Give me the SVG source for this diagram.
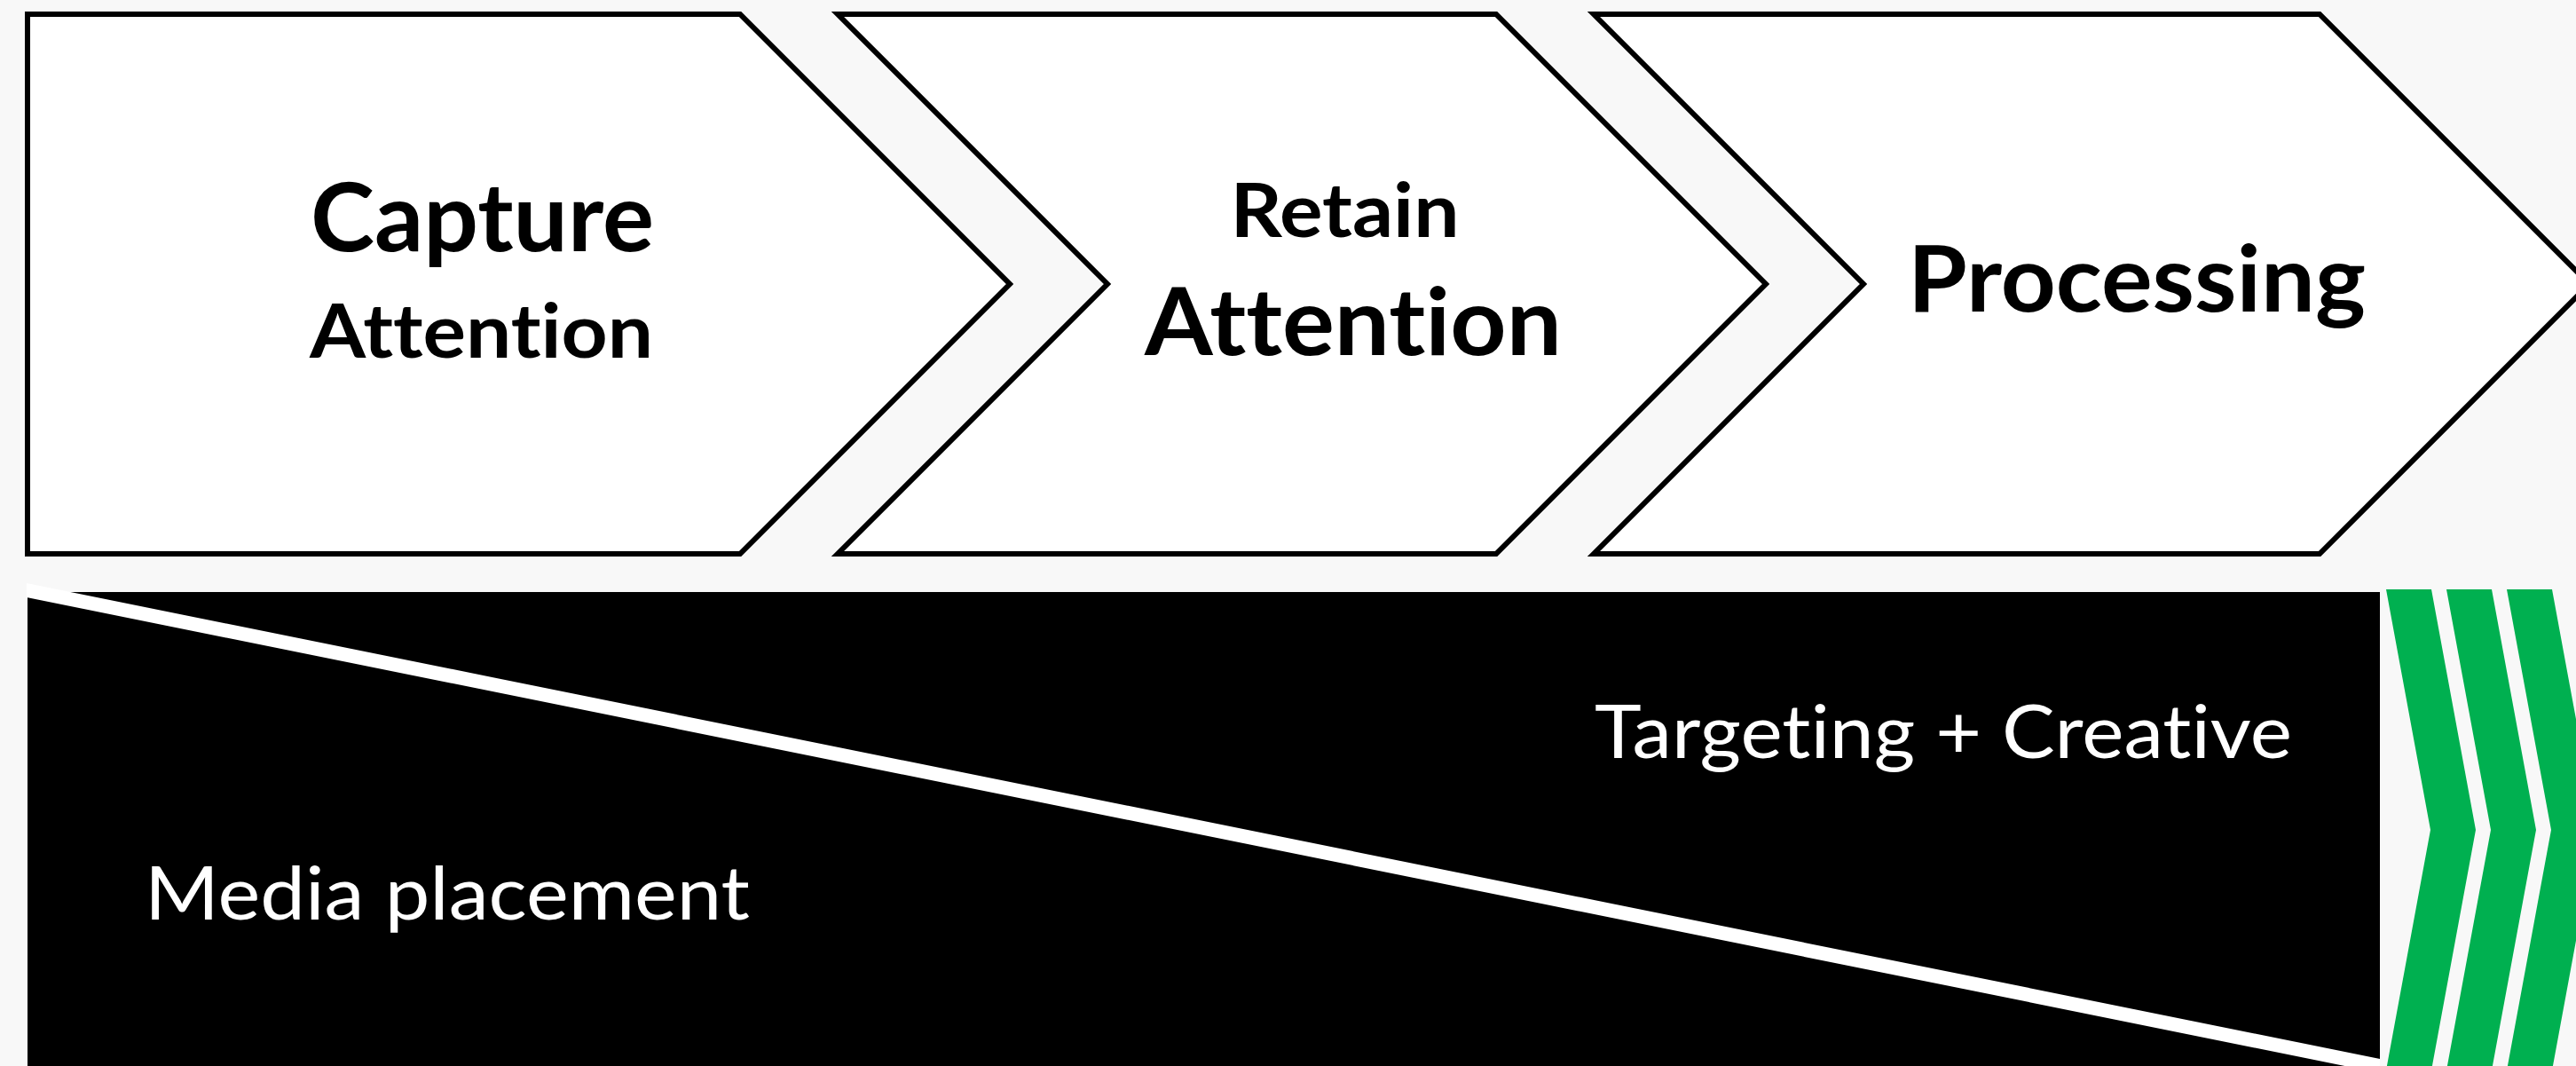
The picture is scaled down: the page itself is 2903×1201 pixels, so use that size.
<svg xmlns="http://www.w3.org/2000/svg" width="2903" height="1201" viewBox="0 0 2903 1201">
  <style>
    text { font-variant-ligatures: none; font-feature-settings: "liga" 0, "dlig" 0, "clig" 0; }
    .stage { fill: #ffffff; stroke: #000000; stroke-width: 6; stroke-linejoin: miter; stroke-miterlimit: 10; }
    .stage-label { font-family: Lato, "Liberation Sans", Arial, sans-serif; font-weight: 700; fill: #000000; text-anchor: middle; }
    .band-label { font-family: Lato, "Liberation Sans", Arial, sans-serif; font-weight: 400; fill: #ffffff; text-anchor: middle; font-size: 84px; }
    .chevron { fill: #00B050; }
  </style>

  <!-- page background -->
  <rect x="0" y="0" width="2903" height="1201" fill="#f8f8f8"/>

  <!-- stage 1 -->
  <g id="capture-attention">
    <polygon class="stage" points="31,16 834,16 1138,320 834,624 31,624"/>
    <text class="stage-label" x="543.5" y="283" font-size="107" textLength="387" lengthAdjust="spacingAndGlyphs">Capture</text>
    <text class="stage-label" x="542.5" y="403" font-size="85" textLength="387" lengthAdjust="spacingAndGlyphs">Attention</text>
  </g>

  <!-- stage 2 -->
  <g id="retain-attention">
    <polygon class="stage" points="944,16 1686,16 1990,320 1686,624 944,624 1248,320"/>
    <text class="stage-label" x="1515.5" y="267" font-size="85" textLength="258" lengthAdjust="spacingAndGlyphs">Retain</text>
    <text class="stage-label" x="1525" y="400" font-size="106" textLength="470" lengthAdjust="spacingAndGlyphs">Attention</text>
  </g>

  <!-- stage 3 -->
  <g id="processing">
    <polygon class="stage" points="1796,16 2614,16 2918,320 2614,624 1796,624 2100,320"/>
    <text class="stage-label" x="2408" y="351" font-size="103" textLength="516" lengthAdjust="spacingAndGlyphs">Processing</text>
  </g>

  <!-- split band: media placement vs targeting + creative -->
  <g id="media-targeting-band">
    <rect x="31" y="667" width="2651" height="540" fill="#000000"/>
    <polygon points="30,657 2682,1193 2682,1209 30,673" fill="#ffffff"/>
    <text class="band-label" x="2190" y="854" textLength="786" lengthAdjust="spacingAndGlyphs">Targeting + Creative</text>
    <text class="band-label" x="504" y="1036" textLength="682" lengthAdjust="spacingAndGlyphs">Media placement</text>
  </g>

  <!-- green forward chevrons -->
  <g id="flow-chevrons">
    <polygon class="chevron" points="2689,664 2740,664 2790,935 2740,1206 2689,1206 2739,935"/>
    <polygon class="chevron" points="2757,664 2808,664 2858,935 2808,1206 2757,1206 2807,935"/>
    <polygon class="chevron" points="2825,664 2876,664 2926,935 2876,1206 2825,1206 2875,935"/>
  </g>
</svg>
